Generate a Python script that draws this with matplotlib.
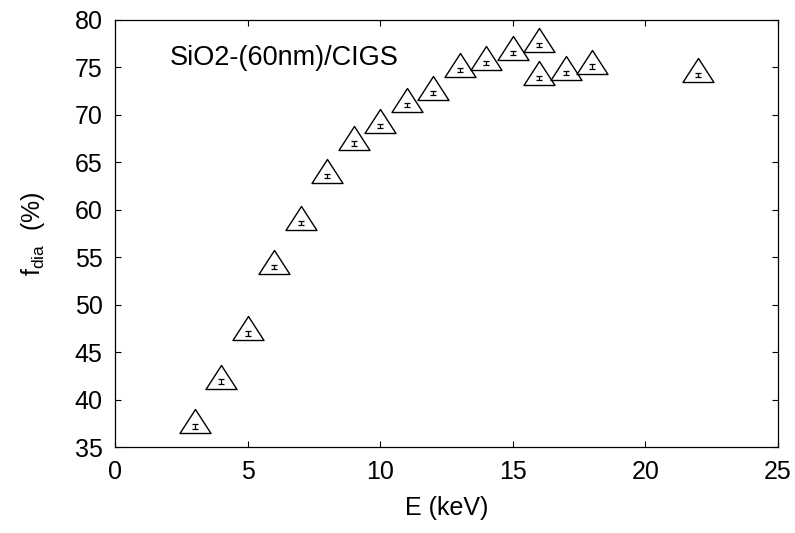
import matplotlib
matplotlib.use("Agg")
import matplotlib.pyplot as plt
from matplotlib.path import Path

plt.rcParams['font.family'] = ['Liberation Sans', 'DejaVu Sans']

# data
energy = [3, 4, 5, 6, 7, 8, 9, 10, 11, 12, 13, 14, 15, 16, 16, 17, 18, 22]
f_dia = [37.2, 41.9, 47.0, 54.0, 58.6, 63.6, 67.0, 68.8, 71.05, 72.3, 74.7,
         75.5, 76.5, 77.4, 73.9, 74.4, 75.1, 74.2]
f_err = [0.25, 0.25, 0.25, 0.25, 0.22, 0.22, 0.22, 0.22, 0.22, 0.22, 0.22,
         0.22, 0.22, 0.22, 0.22, 0.22, 0.22, 0.22]
label_text = "SiO2-(60nm)/CIGS"

# gnuplot-like triangle: data point sits low inside the triangle
tri = Path([(0, 17), (-15.5, -7), (15.5, -7), (0, 17)],
           [Path.MOVETO, Path.LINETO, Path.LINETO, Path.CLOSEPOLY])

fig = plt.figure(figsize=(7.95, 5.33), dpi=100)
ax = fig.add_axes([0.1447, 0.1608, 0.8339, 0.8017])

ax.plot(energy, f_dia, linestyle='none', marker=tri, markersize=24.5,
        markerfacecolor='white', markeredgecolor='black', markeredgewidth=1.0)
ax.errorbar(energy, f_dia, yerr=f_err, fmt='none', ecolor='black',
            elinewidth=0.9, capsize=2.0, capthick=0.9)

ax.text(2.05, 76.0, label_text, fontsize=19.5, va='center', ha='left')

ax.set_xlim(0, 25)
ax.set_ylim(35, 80)
ax.set_xticks(range(0, 26, 5))
ax.set_yticks(range(35, 81, 5))
ax.tick_params(direction='in', top=True, right=True, length=4, width=0.8,
               labelsize=18, pad=9)
for s in ax.spines.values():
    s.set_linewidth(0.9)

ax.set_xlabel("E (keV)", fontsize=18, labelpad=9)
ax.set_ylabel(r"f$_{\mathregular{dia}}$  (%)", fontsize=18, labelpad=20)

fig.savefig("out.png", dpi=100)
